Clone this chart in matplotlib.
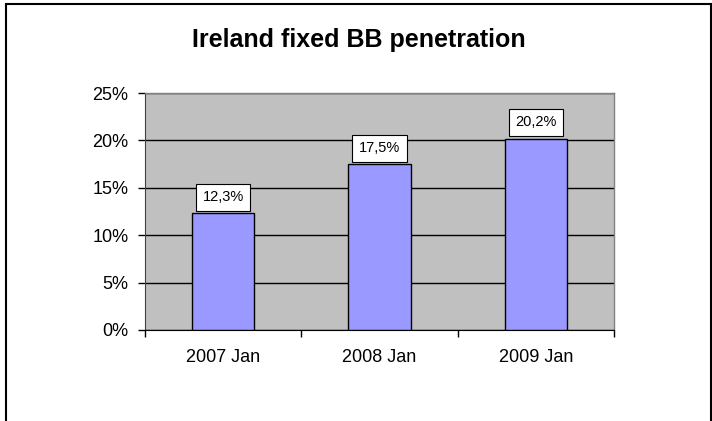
import matplotlib
import matplotlib.pyplot as plt
from matplotlib.patches import Rectangle
from matplotlib.ticker import FixedLocator, FuncFormatter

matplotlib.use("Agg")

plt.rcParams["font.family"] = ["Liberation Sans", "DejaVu Sans"]

title = "Ireland fixed BB penetration"
periods = ["2007 Jan", "2008 Jan", "2009 Jan"]
penetration = [12.3, 17.5, 20.2]  # percent of population
y_ticks = [0, 5, 10, 15, 20, 25]

fig = plt.figure(figsize=(7.12, 4.21), dpi=100)
ax = fig.add_axes([145 / 712, 91 / 421, 469 / 712, 237 / 421])

x = list(range(len(periods)))
ax.set_facecolor("#C0C0C0")
ax.bar(x, penetration, width=0.4, color="#9999FF", edgecolor="black",
       linewidth=1.0, zorder=3)

for xi, v in zip(x, penetration):
    label = f"{v:.1f}%".replace(".", ",")
    ax.annotate(label, (xi, v), xytext=(0, 6.5), textcoords="offset points",
                ha="center", va="bottom", fontsize=10.5, zorder=5,
                bbox=dict(boxstyle="square,pad=0.45", fc="white",
                          ec="black", lw=0.8))

ax.set_xlim(-0.5, len(periods) - 0.5)
ax.set_ylim(0, 25)
ax.set_yticks(y_ticks)
ax.yaxis.set_major_formatter(FuncFormatter(lambda v, _: f"{v:.0f}%"))
ax.grid(axis="y", color="black", linewidth=1.0, zorder=1)

ax.set_xticks(x)
ax.set_xticklabels(periods)
ax.xaxis.set_minor_locator(FixedLocator([i - 0.5 for i in range(len(periods) + 1)]))
ax.tick_params(axis="x", which="major", length=0, pad=14, labelsize=13)
ax.tick_params(axis="x", which="minor", length=5, width=1.0, color="black")
ax.tick_params(axis="y", length=5, width=1.0, pad=7, labelsize=13)

for side in ("top", "right"):
    ax.spines[side].set_color("#808080")
    ax.spines[side].set_linewidth(1.0)
ax.spines["left"].set_color("#404040")
ax.spines["bottom"].set_color("black")

fig.text(0.504, 0.905, title, ha="center", va="center", fontsize=18,
         fontweight="bold")

# chart frame, open at the bottom edge of the image
fig.patches.append(Rectangle((6 / 712, -0.2), 705 / 712, 1.2 - 4 / 421,
                             transform=fig.transFigure, fill=False,
                             ec="black", lw=1.5, clip_on=False))

fig.savefig("out.png", dpi=100)
